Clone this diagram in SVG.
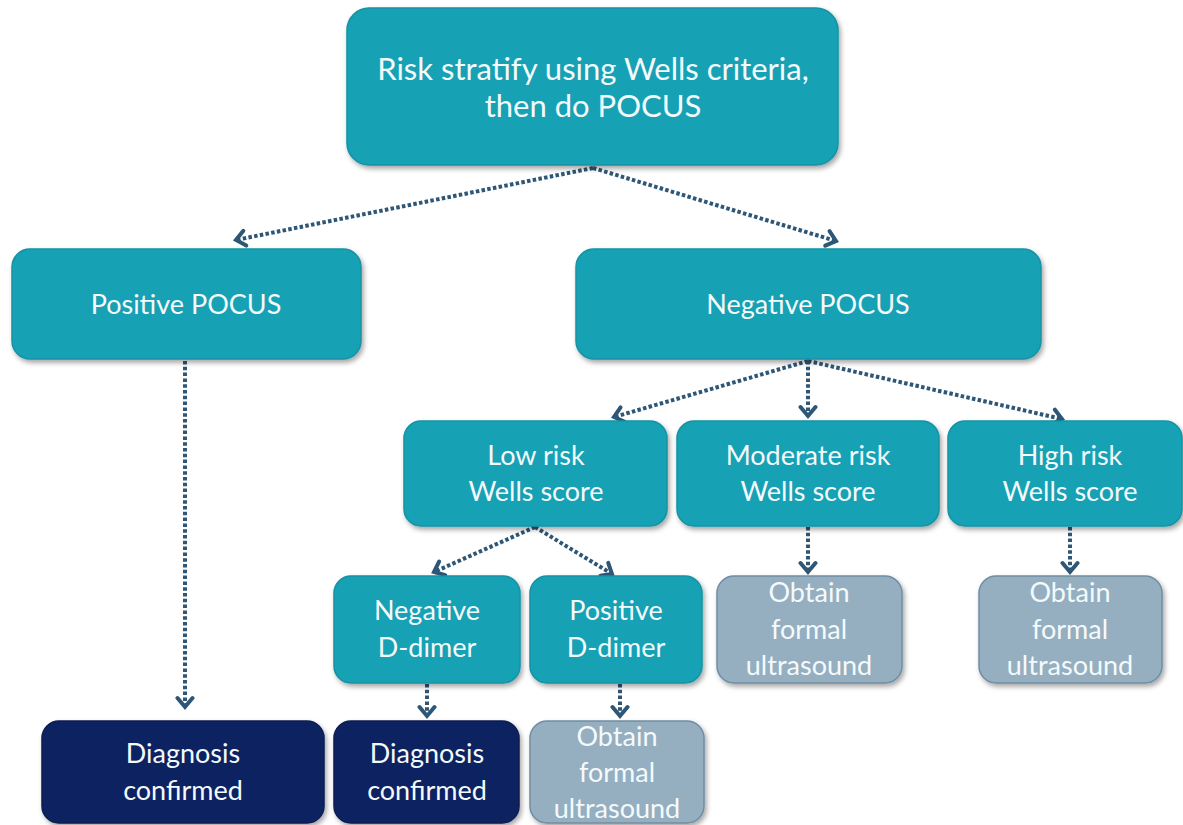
<svg xmlns="http://www.w3.org/2000/svg" width="1183" height="825" viewBox="0 0 1183 825">
<defs>
<filter id="sh" x="-10%" y="-10%" width="125%" height="135%">
<feDropShadow dx="2" dy="3" stdDeviation="2.5" flood-color="#000" flood-opacity="0.35"/>
</filter>
<marker id="arr" viewBox="-12 -10 16 20" markerWidth="16" markerHeight="20" refX="0" refY="0" orient="auto" markerUnits="userSpaceOnUse">
<path d="M-9,-7.5 L0,0 L-9,7.5" fill="none" stroke="#2E5676" stroke-width="4" stroke-linejoin="miter" stroke-linecap="round"/>
</marker>
</defs>
<style>
.teal{fill:#12A1B5;stroke:#1592A4;stroke-width:1.5;filter:url(#sh)}
.navy{fill:#0C2461;stroke:#0A1E52;stroke-width:1.5;filter:url(#sh)}
.grey{fill:#95AFC1;stroke:#6F8DA3;stroke-width:1.5;filter:url(#sh)}
text{font-family:Lato,"Open Sans",sans-serif;fill:#F4FAFB;font-size:27px;text-anchor:middle}
.big{font-size:31px}
.con{fill:none;stroke:#2E5676;stroke-width:4;stroke-dasharray:3.5 2.3;marker-end:url(#arr)}
</style>
<g id="connectors">
<path class="con" d="M593,168 L236,240"/>
<path class="con" d="M593,168 L836,241"/>
<path class="con" d="M185,361 L185,707"/>
<path class="con" d="M808,361 L614,417"/>
<path class="con" d="M808,361 L808,416"/>
<path class="con" d="M808,361 L1062,419"/>
<path class="con" d="M535,527 L434,572"/>
<path class="con" d="M535,527 L612,574"/>
<path class="con" d="M808,527 L808,572"/>
<path class="con" d="M1070,527 L1070,572"/>
<path class="con" d="M427,684 L427,716"/>
<path class="con" d="M620,684 L620,716"/>
</g>
<g id="n-top">
<rect class="teal" x="347" y="8" width="491" height="157" rx="22"/>
<text class="big" x="593" y="80">Risk stratify using Wells criteria,</text>
<text class="big" x="593" y="117">then do POCUS</text>
</g>
<g id="n-pos-pocus">
<rect class="teal" x="12" y="249" width="349" height="110" rx="18"/>
<text x="186" y="314">Positive POCUS</text>
</g>
<g id="n-neg-pocus">
<rect class="teal" x="576" y="249" width="465" height="110" rx="18"/>
<text x="808" y="314">Negative POCUS</text>
</g>
<g id="n-low">
<rect class="teal" x="404" y="421" width="263" height="105" rx="17"/>
<text x="536" y="465">Low risk</text>
<text x="536" y="501">Wells score</text>
</g>
<g id="n-mod">
<rect class="teal" x="677" y="421" width="262" height="105" rx="17"/>
<text x="808" y="465">Moderate risk</text>
<text x="808" y="501">Wells score</text>
</g>
<g id="n-high">
<rect class="teal" x="948" y="421" width="234" height="105" rx="17"/>
<text x="1070" y="465">High risk</text>
<text x="1070" y="501">Wells score</text>
</g>
<g id="n-neg-dd">
<rect class="teal" x="334" y="576" width="186" height="107" rx="17"/>
<text x="427" y="620">Negative</text>
<text x="427" y="657">D-dimer</text>
</g>
<g id="n-pos-dd">
<rect class="teal" x="530" y="576" width="172" height="107" rx="17"/>
<text x="616" y="620">Positive</text>
<text x="616" y="657">D-dimer</text>
</g>
<g id="n-us-mod">
<rect class="grey" x="717" y="576" width="185" height="107" rx="17"/>
<text x="809" y="602">Obtain</text>
<text x="809" y="639">formal</text>
<text x="809" y="675">ultrasound</text>
</g>
<g id="n-us-high">
<rect class="grey" x="979" y="576" width="183" height="107" rx="17"/>
<text x="1070" y="602">Obtain</text>
<text x="1070" y="639">formal</text>
<text x="1070" y="675">ultrasound</text>
</g>
<g id="n-diag1">
<rect class="navy" x="42" y="721" width="282" height="102" rx="17"/>
<text x="183" y="763">Diagnosis</text>
<text x="183" y="800">confirmed</text>
</g>
<g id="n-diag2">
<rect class="navy" x="334" y="721" width="185" height="102" rx="17"/>
<text x="427" y="763">Diagnosis</text>
<text x="427" y="800">confirmed</text>
</g>
<g id="n-us-low">
<rect class="grey" x="530" y="721" width="174" height="102" rx="17"/>
<text x="617" y="746">Obtain</text>
<text x="617" y="782">formal</text>
<text x="617" y="818">ultrasound</text>
</g>
</svg>
